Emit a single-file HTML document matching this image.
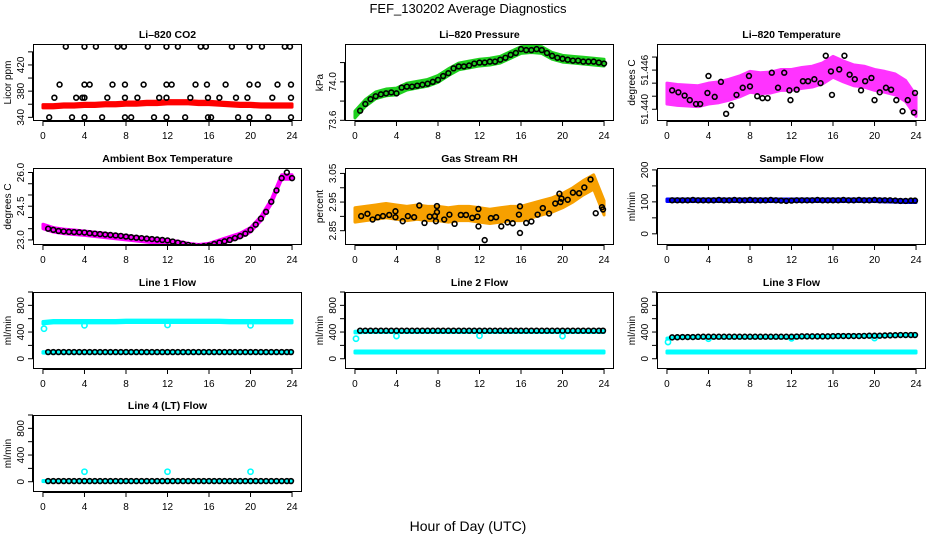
<!DOCTYPE html>
<html><head><meta charset="utf-8">
<style>
html,body{margin:0;padding:0;background:#fff;}
svg{display:block;font-family:"Liberation Sans",Arial,sans-serif;}
</style></head>
<body>
<svg id="chart" width="936" height="540" viewBox="0 0 936 540" xmlns="http://www.w3.org/2000/svg">
<text x="468" y="13" text-anchor="middle" font-size="13">FEF_130202  Average Diagnostics</text>
<text x="468" y="531" text-anchor="middle" font-size="14">Hour of Day (UTC)</text>
</svg>
<script>
// ---------- data ----------
const bandHours = [0,1,2,3,4,5,6,7,8,9,10,11,12,13,14,15,16,17,18,19,20,21,22,23,24];
const flowBlackHours = [0.5,1,1.5,2,2.5,3,3.5,4,4.5,5,5.5,6,6.5,7,7.5,8,8.5,9,9.5,10,10.5,11,11.5,12,12.5,13,13.5,14,14.5,15,15.5,16,16.5,17,17.5,18,18.5,19,19.5,20,20.5,21,21.5,22,22.5,23,23.5,23.9];
const halfHours = [0.5,1,1.5,2,2.5,3,3.5,4,4.5,5,5.5,6,6.5,7,7.5,8,8.5,9,9.5,10,10.5,11,11.5,12,12.5,13,13.5,14,14.5,15,15.5,16,16.5,17,17.5,18,18.5,19,19.5,20,20.5,21,21.5,22,22.5,23,23.5,24];
const xTicks = [0,4,8,12,16,20,24];

// CO2
const co2Red = [357,357,358,358,359,359,360,360,361,361,362,362,363,363,363,362,362,361,360,359,359,358,358,358,358];
const co2BlackX = [2.2,4,5.1,7.2,7.8,10.1,11.9,13,15.2,15.7,18.2,19.9,21.1,23.3,23.8, 1.6,4,4.5,6.7,7.9,9.7,11.9,12.4,14.7,15.8,17.6,19.9,20.7,22.6,23.9, 1.1,3.2,3.8,4,6.2,7.9,9.1,11.2,11.9,14.2,15.9,17,18.6,19.7,22.1,23.9, 0.6,2.8,4,5.7,7.9,8.5,10.7,11.9,13.7,15.9,16.2,18.8,19.9,21.7,23.9];
const co2BlackY = [448,448,448,448,448,448,448,448,448,448,448,448,448,448,448, 390,390,390,390,390,390,390,390,390,390,390,390,390,390,390, 370,370,370,370,370,370,370,370,370,370,370,370,370,370,370,370, 340,340,340,340,340,340,340,340,340,340,340,340,340,340,340];

// Pressure
const presGreen = [73.66,73.78,73.86,73.89,73.90,73.95,73.97,73.99,74.03,74.10,74.16,74.18,74.20,74.21,74.23,74.28,74.33,74.34,74.33,74.27,74.24,74.23,74.22,74.21,74.20];
const presBlack = [73.70,73.77,73.82,73.85,73.87,73.88,73.89,73.88,73.94,73.95,73.95,73.96,73.97,73.98,74.00,74.02,74.06,74.09,74.14,74.16,74.16,74.17,74.19,74.20,74.20,74.21,74.21,74.23,74.25,74.28,74.30,74.34,74.33,74.33,74.34,74.33,74.30,74.27,74.25,74.24,74.23,74.22,74.22,74.21,74.21,74.21,74.20,74.19];

// Li-820 temperature
const tempMag = [51.4424,51.4422,51.4421,51.4420,51.4424,51.4426,51.4430,51.4435,51.4442,51.4440,51.4441,51.4445,51.4445,51.4448,51.4450,51.4455,51.4465,51.4458,51.4452,51.4450,51.4445,51.4442,51.4438,51.4428,51.4405];
const tempBlackX = [0.5,1.1,1.7,2.2,2.8,3.2,3.9,4.0,4.6,5.2,5.7,6.2,6.7,7.3,7.9,8.0,8.7,9.2,9.7,10.1,10.7,11.3,11.8,11.9,12.5,13.1,13.6,14.2,14.8,15.3,15.8,15.9,16.6,17.1,17.6,18.1,18.7,19.1,19.7,20.0,20.5,21.1,21.6,22.1,22.7,23.2,23.8,23.9];
const tempBlackY = [51.4429,51.4426,51.4421,51.4414,51.4408,51.4408,51.4425,51.4451,51.4419,51.4442,51.4393,51.4406,51.4422,51.4433,51.4451,51.4435,51.4420,51.4417,51.4417,51.4456,51.4433,51.4456,51.4429,51.4414,51.4430,51.4443,51.4443,51.4446,51.4440,51.4482,51.4458,51.4422,51.4461,51.4482,51.4453,51.4446,51.4429,51.4443,51.4448,51.4414,51.4426,51.4433,51.4430,51.4414,51.4397,51.4414,51.4395,51.4425];

// Ambient box temperature
const ambMag = [23.6,23.45,23.38,23.34,23.3,23.25,23.2,23.15,23.1,23.05,23.0,22.95,22.9,22.85,22.75,22.7,22.75,22.9,23.05,23.2,23.45,23.95,24.7,25.8,25.8];
const ambBlack = [23.5,23.45,23.4,23.38,23.36,23.35,23.34,23.33,23.3,23.28,23.26,23.24,23.22,23.2,23.18,23.15,23.12,23.1,23.08,23.06,23.04,23.02,23.0,22.98,22.93,22.88,22.83,22.78,22.73,22.7,22.72,22.75,22.82,22.88,22.94,23.0,23.08,23.17,23.28,23.45,23.68,23.95,24.25,24.7,25.2,25.75,26.0,25.75];

// Gas stream RH
const rhOrange = [2.905,2.91,2.915,2.92,2.915,2.91,2.915,2.91,2.91,2.905,2.91,2.91,2.905,2.90,2.905,2.91,2.91,2.92,2.93,2.94,2.955,2.975,3.0,3.02,2.93];
const rhBlackX = [0.6,1.2,1.7,2.2,2.7,3.3,3.9,3.9,4.6,5.1,5.7,6.2,6.7,7.2,7.7,7.9,7.9,7.8,8.6,9.1,9.6,10.2,10.7,11.3,11.8,11.9,11.9,12.5,13.1,13.6,14.1,14.7,15.2,15.8,15.9,15.9,16.5,17.0,17.6,18.1,18.7,19.3,19.7,19.8,19.9,20.5,21.0,21.6,22.1,22.7,23.2,23.8,23.9];
const rhBlackY = [2.901,2.909,2.889,2.897,2.901,2.905,2.918,2.897,2.883,2.901,2.897,2.938,2.877,2.899,2.901,2.936,2.915,2.883,2.889,2.906,2.874,2.905,2.905,2.895,2.899,2.926,2.865,2.817,2.894,2.897,2.865,2.879,2.876,2.906,2.935,2.842,2.877,2.882,2.906,2.929,2.910,2.945,2.979,2.950,2.962,2.958,2.983,2.981,3.001,3.029,2.911,2.932,2.924];

// Sample flow
const sampleBlue = [105,105,105,105,105,105,105,105,105,105,105,105,105,105,105,105,105,105,105,105,105,104,103,102,102];
const sampleBlack = [105,105,105,105,106,105,105,105,105,106,105,105,106,105,105,106,105,105,105,106,105,104,103,104,105,105,105,105,106,105,105,105,105,106,105,105,106,105,105,106,105,105,105,104,103,103,104,104];

// Line flows
const line1CyanHigh = [540,555,555,555,555,555,555,555,560,560,560,560,560,560,560,560,560,560,555,555,555,555,555,555,555];
const line1CyanLow = [95,95,95,95,95,95,95,95,95,95,95,95,95,95,95,95,95,95,95,95,95,95,95,95,95];
const line1OutX = [0.1, 4, 12, 20];
const line1OutY = [450, 500, 505, 500];
const line1Black = [100,100,100,100,100,100,100,100,100,100,100,100,100,100,100,100,100,100,100,100,100,100,100,100,100,100,100,100,100,100,100,100,100,100,100,100,100,100,100,100,100,100,100,100,100,100,100,100];
const line2CyanHigh = [400,405,405,405,405,405,405,405,405,405,405,405,405,405,405,405,405,405,405,405,405,405,405,405,405];
const line2CyanLow = [100,100,100,100,100,100,100,100,100,100,100,100,100,100,100,100,100,100,100,100,100,100,100,100,100];
const line2OutX = [0.1, 4, 12, 20];
const line2OutY = [300, 340, 345, 340];
const line2Black = [420,420,420,420,420,420,420,420,420,420,420,420,420,420,420,420,420,420,420,420,420,420,420,420,420,420,420,420,420,420,420,420,420,420,420,420,420,420,420,420,420,420,420,420,420,420,420,420];
const line3CyanHigh = [300,320,320,320,320,320,320,320,320,320,320,320,320,325,330,330,330,335,340,340,340,345,350,350,350];
const line3CyanLow = [100,100,100,100,100,100,100,100,100,100,100,100,100,100,100,100,100,100,100,100,100,100,100,100,100];
const line3OutX = [0.1, 4, 12, 20];
const line3OutY = [250, 300, 305, 310];
const line3Black = [320,322,325,325,325,328,330,330,330,330,330,330,330,330,330,330,330,330,330,330,330,330,330,330,332,335,335,335,335,335,335,338,340,340,340,340,340,342,345,345,345,348,350,352,355,355,355,355];
const line4Cyan = [10,10,10,10,10,10,10,10,10,10,10,10,10,10,10,10,10,10,10,10,10,10,10,10,10];
const line4OutX = [4, 12, 20];
const line4OutY = [150, 150, 150];
const line4Black = [10,10,10,10,10,10,10,10,10,10,10,10,10,10,10,10,10,10,10,10,10,10,10,10,10,10,10,10,10,10,10,10,10,10,10,10,10,10,10,10,10,10,10,10,10,10,10,10];

// ---------- drawing ----------
const NS = "http://www.w3.org/2000/svg";
const svg = document.getElementById("chart");
const colX = [33, 345, 657];
const rowY = [44, 168, 292, 415];
const BW = 269, BH = 77;
const XMIN = -0.96, XMAX = 24.96;

function mk(tag, attrs, parent) {
  const e = document.createElementNS(NS, tag);
  for (const k in attrs) e.setAttribute(k, attrs[k]);
  (parent || svg).appendChild(e);
  return e;
}

function makePanel(col, row, name, title, ylab, ymin, ymax, yTicks, yLabels) {
  const g = mk("g", {});
  
  
  const bx = colX[col], by = rowY[row];
  const sx = h => bx + (h - XMIN) / (XMAX - XMIN) * BW;
  const sy = v => by + BH - (v - ymin) / (ymax - ymin) * BH;
  const clipId = "clip-" + name;
  const cp = mk("clipPath", {id: clipId}, g);
  mk("rect", {x: bx, y: by, width: BW, height: BH}, cp);
  const t = mk("text", {x: bx + BW / 2, y: by - 6, "text-anchor": "middle", "font-size": "10.5", "font-weight": "bold"}, g);
  t.textContent = title;
  
  
  const xa = mk("g", {stroke: "#000", "stroke-width": "1"}, g);
  
  
  mk("line", {x1: sx(0), x2: sx(24), y1: by + BH + 0.5, y2: by + BH + 0.5}, xa);
  xTicks.forEach(h => {
    mk("line", {x1: sx(h), x2: sx(h), y1: by + BH, y2: by + BH + 5}, xa);
    const tl = mk("text", {x: sx(h), y: by + BH + 18, "text-anchor": "middle", "font-size": "10", stroke: "none"}, g);
    tl.textContent = h;
    
    
  });
  const ya = mk("g", {stroke: "#000", "stroke-width": "1"}, g);
  
  
  mk("line", {x1: bx - 0.5, x2: bx - 0.5, y1: sy(yTicks[0]), y2: sy(yTicks[yTicks.length - 1])}, ya);
  yTicks.forEach(v => mk("line", {x1: bx - 5, x2: bx, y1: sy(v), y2: sy(v)}, ya));
  yLabels.forEach(v => {
    const yl = mk("text", {x: 0, y: 0, "text-anchor": "middle", "font-size": "10",
      transform: `translate(${bx - 9},${sy(v)}) rotate(-90)`}, g);
    yl.textContent = String(v);
    
    
  });
  const yt = mk("text", {x: 0, y: 0, "text-anchor": "middle", "font-size": "10",
    transform: `translate(${bx - 22},${by + BH / 2}) rotate(-90)`}, g);
  yt.textContent = ylab;
  
  
  const plot = mk("g", {"clip-path": `url(#${clipId})`}, g);
  const box = mk("rect", {x: bx + 0.5, y: by + 0.5, width: BW - 1, height: BH - 1, fill: "none", stroke: "#000", "stroke-width": "1"}, g);
  
  
  return {g, plot, sx, sy};
}

function band(p, name, hours, center, spread, color) {
  const up = hours.map((h, i) => `${p.sx(h)},${p.sy(center[i] + spread)}`);
  const dn = hours.map((h, i) => `${p.sx(h)},${p.sy(center[i] - spread)}`).reverse();
  const poly = mk("polygon", {points: up.concat(dn).join(" "), fill: color, stroke: color, "stroke-width": "3", "stroke-linejoin": "round"}, p.plot);
  
  
}

function circles(p, name, xs, ys, color, r) {
  const g = mk("g", {fill: "none", stroke: color, "stroke-width": "1.6"}, p.plot);
  
  
  xs.forEach((h, i) => {
    const c = mk("circle", {cx: p.sx(h), cy: p.sy(ys[i]), r: r || 2.4}, g);
    
    
  });
}

let p = makePanel(0, 0, "co2", "Li\u2013820 CO2", "Licor ppm", 334.4, 452, [340,360,380,400,420,440], [340,380,420]);
band(p, "co2-red-series", bandHours, co2Red, 2.5, "#ff0000");
circles(p, "co2-black-series", co2BlackX, co2BlackY, "#000");

p = makePanel(1, 0, "pressure", "Li\u2013820 Pressure", "kPa", 73.593, 74.393, [73.6,73.8,74.0,74.2], ["73.6","74.0"]);
band(p, "pressure-green-series", bandHours, presGreen, 0.035, "#1ed01e");
circles(p, "pressure-black-series", halfHours, presBlack, "#000");

p = makePanel(2, 0, "li820-temp", "Li\u2013820 Temperature", "degrees C", 51.4382, 51.4500, [51.440,51.442,51.444,51.446,51.448], ["51.440","51.446"]);
band(p, "li820-temp-magenta-series", bandHours, tempMag, 0.0016, "#ff33ff");
circles(p, "li820-temp-black-series", tempBlackX, tempBlackY, "#000");

p = makePanel(0, 1, "ambient", "Ambient Box Temperature", "degrees C", 22.775, 26.2, [23,23.5,24,24.5,25,25.5,26], ["23.0","24.5","26.0"]);
band(p, "ambient-magenta-series", bandHours, ambMag, 0.1, "#ff00ff");
circles(p, "ambient-black-series", halfHours, ambBlack, "#000");

p = makePanel(1, 1, "rh", "Gas Stream RH", "percent", 2.80, 3.069, [2.85,2.90,2.95,3.00,3.05], ["2.85","2.95","3.05"]);
band(p, "rh-orange-series", bandHours, rhOrange, 0.025, "#f7a000");
circles(p, "rh-black-series", rhBlackX, rhBlackY, "#000");

p = makePanel(2, 1, "sample-flow", "Sample Flow", "ml/min", -35, 206, [0,50,100,150,200], [0,100,200]);
band(p, "sample-flow-blue-series", bandHours, sampleBlue, 4, "#0000ff");
circles(p, "sample-flow-black-series", flowBlackHours, sampleBlack, "#000");

const flowTicks = [0,200,400,600,800,1000];
const flowLabels = [0,400,800];
p = makePanel(0, 2, "line1-flow", "Line 1 Flow", "ml/min", -154, 1000, flowTicks, flowLabels);
band(p, "line1-cyan-high-series", bandHours, line1CyanHigh, 18, "#00ffff");
band(p, "line1-cyan-low-series", bandHours, line1CyanLow, 12, "#00ffff");
circles(p, "line1-cyan-outliers", line1OutX, line1OutY, "#00ffff", 2.6);
circles(p, "line1-black-series", flowBlackHours, line1Black, "#000");

p = makePanel(1, 2, "line2-flow", "Line 2 Flow", "ml/min", -154, 1000, flowTicks, flowLabels);
band(p, "line2-cyan-high-series", bandHours, line2CyanHigh, 12, "#00ffff");
band(p, "line2-cyan-low-series", bandHours, line2CyanLow, 15, "#00ffff");
circles(p, "line2-cyan-outliers", line2OutX, line2OutY, "#00ffff", 2.6);
circles(p, "line2-black-series", flowBlackHours, line2Black, "#000");

p = makePanel(2, 2, "line3-flow", "Line 3 Flow", "ml/min", -154, 1000, flowTicks, flowLabels);
band(p, "line3-cyan-high-series", bandHours, line3CyanHigh, 8, "#00ffff");
band(p, "line3-cyan-low-series", bandHours, line3CyanLow, 15, "#00ffff");
circles(p, "line3-cyan-outliers", line3OutX, line3OutY, "#00ffff", 2.6);
circles(p, "line3-black-series", flowBlackHours, line3Black, "#000");

p = makePanel(0, 3, "line4-flow", "Line 4 (LT) Flow", "ml/min", -154, 1000, flowTicks, flowLabels);
band(p, "line4-cyan-series", bandHours, line4Cyan, 8, "#00ffff");
circles(p, "line4-cyan-outliers", line4OutX, line4OutY, "#00ffff", 2.6);
circles(p, "line4-black-series", flowBlackHours, line4Black, "#000");
</script>
</body></html>
